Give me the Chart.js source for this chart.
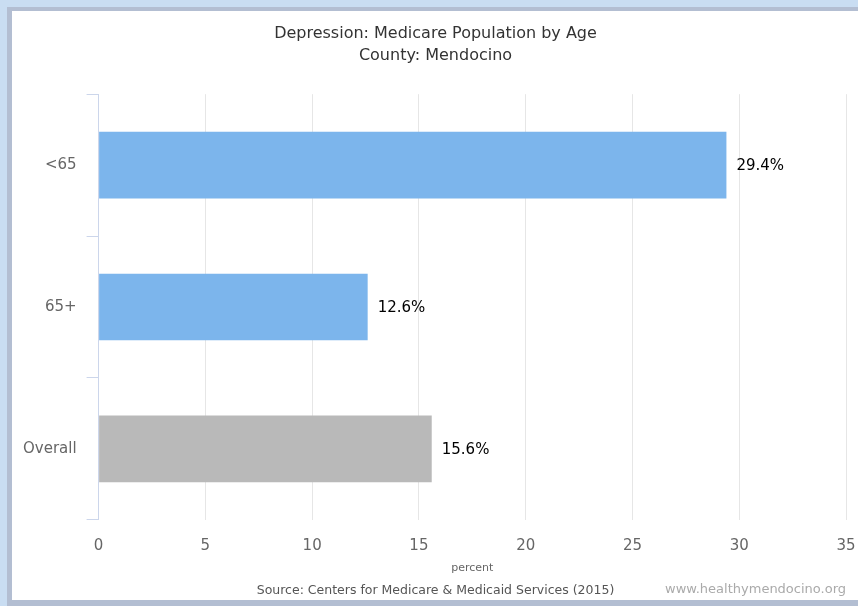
<!DOCTYPE html>
<html>
<head>
<meta charset="utf-8">
<script src="https://cdn.jsdelivr.net/npm/chart.js@4"></script>
<style>
  html, body { margin: 0; padding: 0; }
  body { width: 858px; height: 606px; background: #c9ddf2; position: relative; overflow: hidden; }
  #frame { position: absolute; left: 7px; top: 7px; right: 0; bottom: 0; background: #b3bed2; }
  #box { position: absolute; left: 12px; top: 11px; width: 846px; height: 589px; background: #fff; }
</style>
</head>
<body>
<div id="frame"></div>
<div id="box"><canvas id="chart" width="846" height="589"></canvas></div>
<script>
// Data
const categories = ['<65', '65+', 'Overall'];
const percentValues = [29.4, 12.6, 15.6];
const xTicks = [0, 5, 10, 15, 20, 25, 30, 35];

const FONT = "'DejaVu Sans', sans-serif";

// value labels at the end of each bar
const valueLabels = {
  id: 'valueLabels',
  afterDatasetsDraw(chart) {
    const ctx = chart.ctx;
    const meta = chart.getDatasetMeta(0);
    ctx.save();
    ctx.font = '15px ' + FONT;
    ctx.fillStyle = '#000';
    ctx.textBaseline = 'middle';
    meta.data.forEach((bar, i) => {
      ctx.fillText(percentValues[i].toFixed(1) + '%', bar.x + 10, bar.y + 1);
    });
    ctx.restore();
  }
};

// site credit bottom right
const credit = {
  id: 'credit',
  afterDraw(chart) {
    const ctx = chart.ctx;
    ctx.save();
    ctx.font = '13px ' + FONT;
    ctx.fillStyle = '#aaa';
    ctx.textAlign = 'right';
    ctx.textBaseline = 'middle';
    ctx.fillText('www.healthymendocino.org', chart.width - 12, 579);
    ctx.restore();
  }
};

new Chart(document.getElementById('chart'), {
  type: 'bar',
  data: {
    labels: categories,
    datasets: [{
      data: percentValues,
      backgroundColor: ['#7cb5ec', '#7cb5ec', '#b9b9b9'],
      barPercentage: 0.47,
      categoryPercentage: 1
    }]
  },
  options: {
    indexAxis: 'y',
    responsive: false,
    animation: false,
    layout: { padding: { left: 1, right: 0, top: 0, bottom: 0 } },
    plugins: {
      legend: { display: false },
      tooltip: { enabled: false },
      title: {
        display: true,
        text: ['Depression: Medicare Population by Age', 'County: Mendocino'],
        color: '#333',
        font: { family: FONT, size: 16, weight: 'normal', lineHeight: 1.35 },
        padding: { top: 12, bottom: 28 }
      },
      subtitle: {
        display: true,
        position: 'bottom',
        text: 'Source: Centers for Medicare & Medicaid Services (2015)',
        color: '#555',
        font: { family: FONT, size: 12.5, weight: 'normal' },
        padding: { top: 4, bottom: 2 }
      }
    },
    scales: {
      x: {
        min: 0,
        max: 35,
        afterBuildTicks(axis) { axis.ticks = xTicks.map(v => ({ value: v })); },
        afterFit(axis) { axis.paddingRight = 12; },
        border: { display: false },
        grid: { color: '#e6e6e6', drawTicks: false },
        ticks: { color: '#666', padding: 17, font: { family: FONT, size: 15 } },
        title: {
          display: true,
          text: 'percent',
          color: '#666',
          font: { family: FONT, size: 11 },
          padding: { top: -10, bottom: 4 }
        }
      },
      y: {
        border: { display: true, color: '#ccd6eb' },
        grid: { drawOnChartArea: false, color: '#ccd6eb', tickLength: 12 },
        ticks: { color: '#666', padding: 10, font: { family: FONT, size: 15 } }
      }
    }
  },
  plugins: [valueLabels, credit]
});
</script>
</body>
</html>
